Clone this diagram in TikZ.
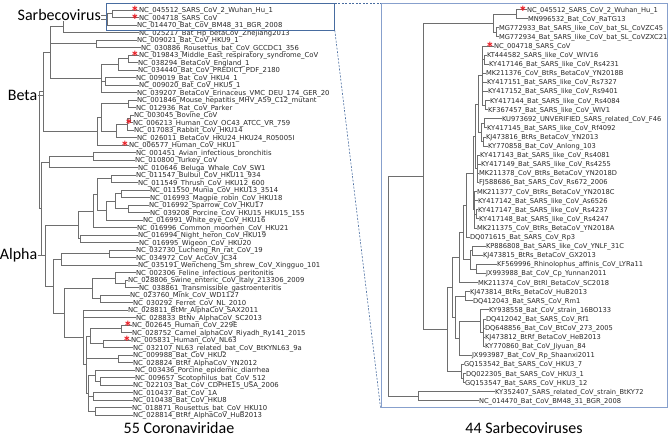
\documentclass[tikz,border=0pt]{standalone}
\usepackage{fontspec}
\usepackage{tikz}
\usetikzlibrary{calc}
\newfontfamily\treefont{DejaVu Sans}
\newfontfamily\capfont{Carlito}
\definecolor{frame}{RGB}{72,108,160}
\definecolor{panel}{RGB}{135,160,205}
\definecolor{hit}{RGB}{232,28,36}
\definecolor{twig}{RGB}{110,110,110}
\definecolor{ink}{RGB}{40,40,40}

\begin{document}
\begin{tikzpicture}[x=1pt, y=-1pt,
    leaf/.style={anchor=west, inner sep=0pt, outer sep=0pt, text height=5pt, text depth=0pt,
                 font=\treefont\fontsize{6.85}{8}\selectfont, text=ink},
    rleaf/.style={leaf, font=\treefont\fontsize{6.7}{8}\selectfont},
    br/.style={draw=twig, line width=0.7pt},
    human/.style={inner sep=0pt, text height=3pt, text depth=0pt, text=hit,
                  font=\treefont\bfseries\fontsize{8.5}{8.5}\selectfont},
    clade/.style={inner sep=0pt, fill=white, text=black, font=\capfont\fontsize{16}{19}\selectfont},
    sbox/.style={draw=frame, line width=0.8pt, inner sep=0pt, anchor=north west},
    zoomline/.style={draw=frame, line width=0.6pt, dash pattern=on 2pt off 1.5pt}
  ]
  \useasboundingbox (0,0) rectangle (670,437);

  % 55 coronaviridae
  \foreach \x/\t [count=\i from 0] in {
    139/NC\_045512\_SARS\_CoV\_2\_Wuhan\_Hu\_1,
    139/NC\_004718\_SARS\_CoV,
    137/NC\_014470\_Bat\_CoV\_BM48\_31\_BGR\_2008,
    139/NC\_025217\_Bat\_Hp\_betaCoV\_Zhejiang2013,
    137/NC\_009021\_Bat\_CoV\_HKU9\_1,
    141/NC\_030886\_Rousettus\_bat\_CoV\_GCCDC1\_356,
    139/NC\_019843\_Middle\_East\_respiratory\_syndrome\_CoV,
    138/NC\_038294\_BetaCoV\_England\_1,
    138/NC\_034440\_Bat\_CoV\_PREDICT\_PDF\_2180,
    136/NC\_009019\_Bat\_CoV\_HKU4\_1,
    139/NC\_009020\_Bat\_CoV\_HKU5\_1,
    137/NC\_039207\_BetaCoV\_Erinaceus\_VMC\_DEU\_174\_GER\_20,
    137/NC\_001846\_Mouse\_hepatitis\_MHV\_A59\_C12\_mutant,
    136/NC\_012936\_Rat\_CoV\_Parker,
    134/NC\_003045\_Bovine\_CoV,
    133/NC\_006213\_Human\_CoV\_OC43\_ATCC\_VR\_759,
    134/NC\_017083\_Rabbit\_CoV\_HKU14,
    137/NC\_026011\_BetaCoV\_HKU24\_HKU24\_R05005I,
    129/NC\_006577\_Human\_CoV\_HKU1,
    136/NC\_001451\_Avian\_infectious\_bronchitis,
    135/NC\_010800\_Turkey\_CoV,
    138/NC\_010646\_Beluga\_Whale\_CoV\_SW1,
    136/NC\_011547\_Bulbul\_CoV\_HKU11\_934,
    138/NC\_011549\_Thrush\_CoV\_HKU12\_600,
    150/NC\_011550\_Munia\_CoV\_HKU13\_3514,
    150/NC\_016993\_Magpie\_robin\_CoV\_HKU18,
    149/NC\_016992\_Sparrow\_CoV\_HKU17,
    150/NC\_039208\_Porcine\_CoV\_HKU15\_HKU15\_155,
    143/NC\_016991\_White\_eye\_CoV\_HKU16,
    137/NC\_016996\_Common\_moorhen\_CoV\_HKU21,
    138/NC\_016994\_Night\_heron\_CoV\_HKU19,
    139/NC\_016995\_Wigeon\_CoV\_HKU20,
    136/NC\_032730\_Lucheng\_Rn\_rat\_CoV\_19,
    136/NC\_034972\_CoV\_AcCoV\_JC34,
    138/NC\_035191\_Wencheng\_Sm\_shrew\_CoV\_Xingguo\_101,
    136/NC\_002306\_Feline\_infectious\_peritonitis,
    128/NC\_028806\_Swine\_enteric\_CoV\_Italy\_213306\_2009,
    139/NC\_038861\_Transmissible\_gastroenteritis,
    130/NC\_023760\_Mink\_CoV\_WD1127,
    133/NC\_030292\_Ferret\_CoV\_NL\_2010,
    128/NC\_028811\_BtMr\_AlphaCoV\_SAX2011,
    136/NC\_028833\_BtNv\_AlphaCoV\_SC2013,
    132/NC\_002645\_Human\_CoV\_229E,
    132/NC\_028752\_Camel\_alphaCoV\_Riyadh\_Ry141\_2015,
    131/NC\_005831\_Human\_CoV\_NL63,
    133/NC\_032107\_NL63\_related\_bat\_CoV\_BtKYNL63\_9a,
    133/NC\_009988\_Bat\_CoV\_HKU2,
    133/NC\_028824\_BtRf\_AlphaCoV\_YN2012,
    135/NC\_003436\_Porcine\_epidemic\_diarrhea,
    135/NC\_009657\_Scotophilus\_bat\_CoV\_512,
    133/NC\_022103\_Bat\_CoV\_CDPHE15\_USA\_2006,
    133/NC\_010437\_Bat\_CoV\_1A,
    133/NC\_010438\_Bat\_CoV\_HKU8,
    132/NC\_018871\_Rousettus\_bat\_CoV\_HKU10,
    133/NC\_028814\_BtRf\_AlphaCoV\_HuB2013}
    \node[leaf] (l\i) at (\x,{10+7.5*\i}) {\t};

  \foreach \n/\x/\y/\k in {
    lSb1/112/13.75/{l0,l1},
    lSb/107.7/19.4/{lSb1,l2},
    lN1/63/25.95/{lSb,l3},
    lK9/96/43.75/{l4,l5},
    lP67/128/58.75/{l6,l7},
    lP678/118/64.4/{lP67,l8},
    lP910/105/81.25/{l9,l10},
    lQ/101.7/78.45/{lP678,lP910,l11},
    lN2/50.7/52.2/{lN1,lK9,lQ},
    lM/128/103.75/{l12,l13},
    lO1a/130.5/118.75/{l14,l15},
    lO1/127/124.4/{lO1a,l16},
    lO/116.7/130.95/{lO1,l17},
    lE0a/101.7/117.35/{lM,lO},
    lE0/97/131.2/{lE0a,l18},
    lBA/43/91.7/{lN2,lE0},
    lG1/93.3/156.25/{l19,l20},
    lG/49.3/161.9/{lG1,l21},
    lT1/111.7/178.75/{l22,l23},
    lT2/121.7/193.75/{l24,l25},
    lT3/128.3/208.75/{l26,l27},
    lT4/115/201.25/{lT2,lT3},
    lT5/106.7/210.6/{lT4,l28},
    lU/97/194.7/{lT1,lT5},
    lT/93.3/211.1/{lU,l29},
    lW/80/238.75/{l30,l31},
    lD/78.3/224.9/{lT,lW},
    lL1/109/253.75/{l32,l33},
    lL/61/259.4/{lL1,l34},
    lF2/125/283.75/{l36,l37},
    lF3/115/278.1/{l35,lF2},
    lMF/100/298.75/{l38,l39},
    lFM/92.3/288.4/{lF3,lMF},
    lY1a/121.7/328.75/{l42,l43},
    lY1b/103.3/343.75/{l44,l45},
    lY1/90/336.25/{lY1a,lY1b},
    lY2/118.3/358.75/{l46,l47},
    lY3a/100/381.25/{l49,l50},
    lY3/95/375.6/{l48,lY3a},
    lY4/93.3/396.25/{l51,l52},
    lY5/95/411.25/{l53,l54},
    lYb/88.3/393.4/{lY3,lY4,lY5},
    lY/86.7/364.8/{lY1,lY2,lYb},
    lX/83.3/337.4/{l40,l41,lY},
    lAR/64.3/312.9/{lFM,lX},
    lAl/53.3/286.15/{lL,lAR},
    lDA/45/255.5/{lD,lAl},
    lGDA/41/208.7/{lG,lDA},
    lRoot/39.5/150.2/{lBA,lGDA}}
    {\coordinate (\n) at (\x,\y);
     \foreach \c in \k \draw[br] (\n) |- (\c);}

  % 44 sarbecoviruses
  \foreach \x/\t [count=\i from 0] in {
    527/NC\_045512\_SARS\_CoV\_2\_Wuhan\_Hu\_1,
    528/MN996532\_Bat\_CoV\_RaTG13,
    499/MG772933\_Bat\_SARS\_like\_CoV\_bat\_SL\_CoVZC45,
    499/MG772934\_Bat\_SARS\_like\_CoV\_bat\_SL\_CoVZXC21,
    494/NC\_004718\_SARS\_CoV,
    487/KT444582\_SARS\_like\_CoV\_WIV16,
    489/KY417146\_Bat\_SARS\_like\_CoV\_Rs4231,
    486/MK211376\_CoV\_BtRs\_BetaCoV\_YN2018B,
    487/KY417151\_Bat\_SARS\_like\_CoV\_Rs7327,
    488/KY417152\_Bat\_SARS\_like\_CoV\_Rs9401,
    490/KY417144\_Bat\_SARS\_like\_CoV\_Rs4084,
    488/KF367457\_Bat\_SARS\_like\_CoV\_WIV1,
    502/KU973692\_UNVERIFIED\_SARS\_related\_CoV\_F46,
    487/KY417145\_Bat\_SARS\_like\_CoV\_Rf4092,
    486/KJ473816\_BtRs\_BetaCoV\_YN2013,
    488/KY770858\_Bat\_CoV\_Anlong\_103,
    480/KY417143\_Bat\_SARS\_like\_CoV\_Rs4081,
    481/KY417149\_Bat\_SARS\_like\_CoV\_Rs4255,
    479/MK211378\_CoV\_BtRs\_BetaCoV\_YN2018D,
    479/FJ588686\_Bat\_SARS\_CoV\_Rs672\_2006,
    477/MK211377\_CoV\_BtRs\_BetaCoV\_YN2018C,
    478/KY417142\_Bat\_SARS\_like\_CoV\_As6526,
    478/KY417147\_Bat\_SARS\_like\_CoV\_Rs4237,
    479/KY417148\_Bat\_SARS\_like\_CoV\_Rs4247,
    477/MK211375\_CoV\_BtRs\_BetaCoV\_YN2018A,
    470/DQ071615\_Bat\_SARS\_CoV\_Rp3,
    486/KP886808\_Bat\_SARS\_like\_CoV\_YNLF\_31C,
    483/KJ473815\_BtRs\_BetaCoV\_GX2013,
    497/KF569996\_Rhinolophus\_affinis\_CoV\_LYRa11,
    486/JX993988\_Bat\_CoV\_Cp\_Yunnan2011,
    478/MK211374\_CoV\_BtRl\_BetaCoV\_SC2018,
    470/KJ473814\_BtRs\_BetaCoV\_HuB2013,
    473/DQ412043\_Bat\_SARS\_CoV\_Rm1,
    489/KY938558\_Bat\_CoV\_strain\_16BO133,
    486/DQ412042\_Bat\_SARS\_CoV\_Rf1,
    485/DQ648856\_Bat\_CoV\_BtCoV\_273\_2005,
    485/KJ473812\_BtRf\_BetaCoV\_HeB2013,
    485/KY770860\_Bat\_CoV\_Jiyuan\_84,
    472/JX993987\_Bat\_CoV\_Rp\_Shaanxi2011,
    464/GQ153542\_Bat\_SARS\_CoV\_HKU3\_7,
    466/DQ022305\_Bat\_SARS\_CoV\_HKU3\_1,
    465/GQ153547\_Bat\_SARS\_CoV\_HKU3\_12,
    495/KY352407\_SARS\_related\_CoV\_strain\_BtKY72,
    479/NC\_014470\_Bat\_CoV\_BM48\_31\_BGR\_2008}
    \node[rleaf] (r\i) at (\x,{9.5+9.1*\i}) {\t};

  \foreach \n/\x/\y/\k in {
    rB1/516/14.05/{r0,r1},
    rB2/496/32.25/{r2,r3},
    rB/493/23.15/{rB1,rB2},
    rS1/484/59.55/{r5,r6},
    rS3/485/105.05/{r10,r11},
    rS2/482.5/75.5/{r4,rS1,r7,r8,r9,rS3},
    rS4/484/123.25/{r12,r13},
    rS5/483/141.45/{r14,r15},
    rS6/481.5/132.35/{rS4,rS5},
    rS7/478.5/103.9/{rS2,rS6},
    rS8/477/168.75/{r16,r17,r18,r19},
    rS9/475.5/136.3/{rS7,rS8},
    rS10/476.5/214.25/{r22,r23},
    rS11/474.5/209.7/{r20,r21,rS10,r24},
    rS/473/173/{rS9,rS11},
    rE1a/466/205/{rS,r25},
    rP/472/250.65/{r26,r27},
    rQ/476.5/268.85/{r28,r29},
    rE1b/470/259.75/{rP,rQ},
    rE1/463/232.4/{rE1a,rE1b},
    rE/459/257.45/{rE1,r30},
    rF1/465/296.15/{r31,r32},
    rF4/483.5/332.55/{r34,r35,r36,r37},
    rF3/480/321.2/{r33,rF4},
    rF2/459/338.25/{rF3,r38},
    rF/455/317.2/{rF1,rF2},
    rD/452/287.3/{rE,rF},
    rH2/463/378.05/{r40,r41},
    rH/461/371.2/{r39,rH2},
    rC/447/329.3/{rD,rH},
    rA/423/176.2/{rB,rC},
    rZ/418/396.25/{r42,r43},
    rR/388/286.2/{rA,rZ}}
    {\coordinate (\n) at (\x,\y);
     \foreach \c in \k \draw[br] (\n) |- (\c);}

  \foreach \s in {l0,l1,l6,l15,l18,l42,l44,r0,r4}
    \node[human] (h\s) at ([xshift=-4pt]\s.west) {∗};

  \node[sbox, minimum width=228pt, minimum height=26.5pt] (lbox) at (106,3) {};
  \node[sbox, draw=panel, line width=1pt, minimum width=286pt, minimum height=403.5pt] (rbox) at (380.5,3) {};
  \draw[zoomline] (lbox.north east) -- (rbox.north west);
  \draw[zoomline] (lbox.south east) -- (rbox.south west);

  \node[clade, anchor=base east] (sarb) at (101,20.5) {Sarbecovirus};
  \node[clade, anchor=base east] (beta) at (37.5,100.5) {Beta};
  \node[clade, anchor=base east] (alpha) at (37.5,259.5) {Alpha};
  \draw[br] (sarb.east) -- (sarb.east -| lbox.west);
  \draw[br] (beta.east) -- (beta.east -| lBA);
  \draw[br] (alpha.east) -- (alpha.east -| lDA);

  \node[clade, anchor=base] (ncov) at (179,433) {55 Coronaviridae};
  \node[clade, anchor=base] (nsarb) at (524,433.5) {44 Sarbecoviruses};
\end{tikzpicture}
\end{document}
